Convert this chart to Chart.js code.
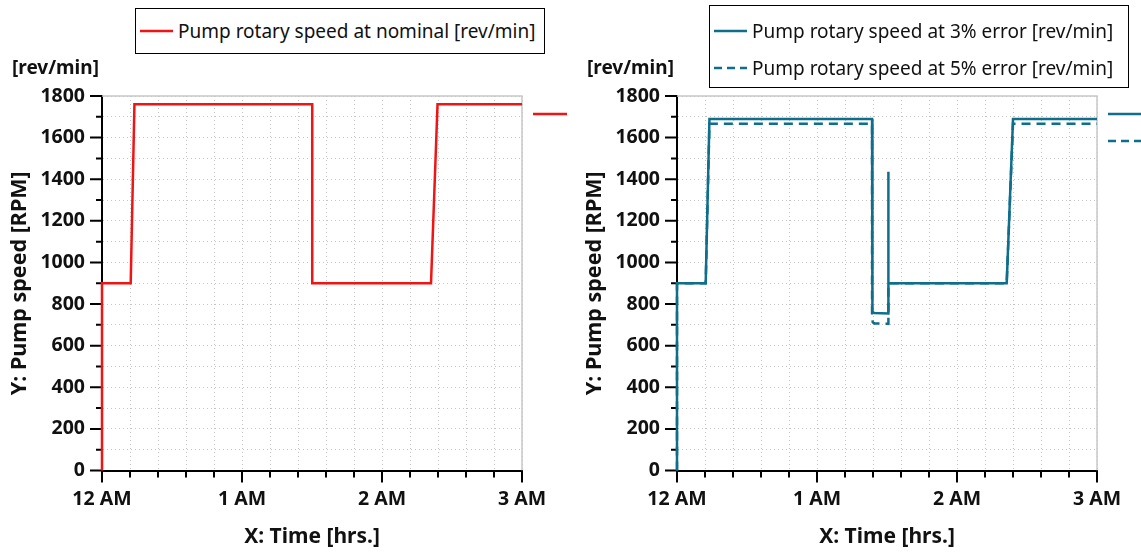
<!DOCTYPE html>
<html><head><meta charset="utf-8">
<script src="https://cdn.jsdelivr.net/npm/chart.js@4.4.1/dist/chart.umd.min.js"></script>
<style>
html,body{margin:0;padding:0;background:#fff;}
#wrap{position:relative;width:1141px;height:553px;overflow:hidden;font-family:'Noto Sans',sans-serif;}
.panel{position:absolute;top:0;height:553px;}
.panel canvas{position:absolute;left:0;top:0;}
.legend{position:absolute;border:1px solid #000;background:#fff;box-sizing:border-box;}
.lrow{height:37px;display:flex;align-items:center;font-size:19px;color:#111;white-space:nowrap;}
.lrow svg{margin:0 5px 0 4px;flex:none;}
.unit{position:absolute;left:12px;top:54px;font-weight:bold;font-size:19px;line-height:26px;color:#111;white-space:nowrap;}
.stub{position:absolute;left:533px;height:6px;line-height:0;}
.stub svg{display:block;}
</style></head>
<body>
<div id="wrap">
  <div class="panel" id="p1" style="left:0;width:575px;">
    <canvas id="c1" width="575" height="553"></canvas>
    <div class="unit" id="u1"></div>
    <div class="legend" id="lg1" style="left:135px;top:8px;width:410px;height:46px;padding-top:3px;"></div>
    <div id="st1"></div>
  </div>
  <div class="panel" id="p2" style="left:575px;width:566px;">
    <canvas id="c2" width="566" height="553"></canvas>
    <div class="unit" id="u2"></div>
    <div class="legend" id="lg2" style="left:134px;top:5px;width:420px;height:83px;padding-top:6px;"></div>
    <div id="st2"></div>
  </div>
</div>
<script>
// ---- data (time in minutes after 12 AM, speed in rev/min) ----
const timeTickLabels = ['12 AM', '1 AM', '2 AM', '3 AM'];
const xTitle = 'X: Time [hrs.]';
const yTitle = 'Y: Pump speed [RPM]';
const unitLabel = '[rev/min]';

const nominalLabel = 'Pump rotary speed at nominal [rev/min]';
const nominalTime  = [0, 0, 12.3, 13.9, 90.1, 90.1, 141.0, 143.8, 180];
const nominalSpeed = [0, 900, 900, 1760, 1760, 900, 900, 1760, 1760];

const err3Label = 'Pump rotary speed at 3% error [rev/min]';
const err3Time  = [0, 0, 12.3, 13.9, 83.6, 83.6, 83.9, 84.6, 90.6, 90.6, 90.6, 141.3, 144.0, 180];
const err3Speed = [0, 900, 900, 1690, 1690, 790, 762, 757, 755, 1436, 900, 900, 1690, 1690];

const err5Label = 'Pump rotary speed at 5% error [rev/min]';
const err5Time  = [0, 0, 12.3, 13.9, 83.6, 83.6, 83.9, 84.6, 90.6, 90.6, 141.3, 144.0, 180];
const err5Speed = [0, 900, 900, 1667, 1667, 735, 712, 707, 705, 900, 900, 1667, 1667];

const RED = '#f01414';
const BLUE = '#0f6e8c';

Chart.defaults.font.family = "'Noto Sans', sans-serif";
Chart.defaults.color = '#111';

function pts(t, v) { return t.map((x, i) => ({ x: x, y: v[i] })); }

const framePlugin = {
  id: 'frame',
  beforeDatasetsDraw(chart) {
    const { ctx, chartArea: a, scales } = chart;
    ctx.save();
    ctx.strokeStyle = '#c8c8c8';
    ctx.lineWidth = 1.5;
    ctx.beginPath();
    ctx.moveTo(a.left, a.top); ctx.lineTo(a.right, a.top); ctx.lineTo(a.right, a.bottom);
    ctx.stroke();
    ctx.strokeStyle = '#000';
    ctx.lineWidth = 2;
    ctx.beginPath();
    scales.y.ticks.forEach(t => {
      const y = scales.y.getPixelForValue(t.value);
      const len = (Math.round(t.value) % 200 === 0) ? 12 : 6;
      ctx.moveTo(a.left - len, y); ctx.lineTo(a.left, y);
    });
    scales.x.ticks.forEach(t => {
      const x = scales.x.getPixelForValue(t.value);
      const len = (Math.round(t.value) % 60 === 0) ? 12 : 7;
      ctx.moveTo(x, a.bottom); ctx.lineTo(x, a.bottom + len);
    });
    ctx.stroke();
    ctx.restore();
  }
};

function makeChart(id, datasets, padRight) {
  return new Chart(document.getElementById(id), {
    type: 'line',
    data: { datasets: datasets },
    options: {
      responsive: false,
      animation: false,
      layout: { padding: { top: 96, right: padRight, left: 0, bottom: 0 } },
      plugins: { legend: { display: false }, tooltip: { enabled: false } },
      elements: { point: { radius: 0 }, line: { tension: 0, borderWidth: 2.5 } },
      scales: {
        x: {
          type: 'linear', min: 0, max: 180,
          ticks: {
            stepSize: 12, autoSkip: false, maxRotation: 0, padding: 5, color: '#111',
            font: { size: 19.5, weight: 'bold' },
            callback: v => (Math.abs(v % 60) < 1e-6 ? timeTickLabels[Math.round(v / 60)] : '')
          },
          grid: { color: '#c4c4c4', lineWidth: 1, tickLength: 12, tickColor: 'rgba(0,0,0,0)' },
          border: { display: true, color: '#000', width: 2, dash: [1, 3] },
          title: { display: true, text: xTitle, color: '#111', font: { size: 21, weight: 'bold' }, padding: { top: 0, bottom: 3 } },
          afterFit: s => { s.height = 82.5; }
        },
        y: {
          type: 'linear', min: 0, max: 1800,
          ticks: {
            stepSize: 100, autoSkip: false, padding: 5, color: '#111',
            font: { size: 19.5, weight: 'bold' },
            callback: v => (Math.round(v) % 200 === 0 ? String(v) : '')
          },
          grid: { color: '#c4c4c4', lineWidth: 1, tickLength: 12, tickColor: 'rgba(0,0,0,0)' },
          border: { display: true, color: '#000', width: 2, dash: [1, 3] },
          title: { display: true, text: yTitle, color: '#111', font: { size: 21.5, weight: 'bold' }, padding: { top: 7, bottom: 0 } },
          afterFit: s => { s.width = 102; }
        }
      }
    },
    plugins: [framePlugin]
  });
}

const chart1 = makeChart('c1', [
  { label: nominalLabel, data: pts(nominalTime, nominalSpeed), borderColor: RED, backgroundColor: RED, clip: false }
], 53);

const chart2 = makeChart('c2', [
  { label: err3Label, data: pts(err3Time, err3Speed), borderColor: BLUE, backgroundColor: BLUE, clip: false },
  { label: err5Label, data: pts(err5Time, err5Speed), borderColor: BLUE, backgroundColor: BLUE, borderDash: [9, 6], clip: false }
], 44);

function swatch(color, dash, w) {
  const d = dash ? ` stroke-dasharray="8 5"` : '';
  return `<svg width="${w}" height="6"><line x1="0" y1="3" x2="${w}" y2="3" stroke="${color}" stroke-width="2.5"${d}/></svg>`;
}
function buildLegend(chart, legendId, stubId) {
  const lg = document.getElementById(legendId);
  const st = document.getElementById(stubId);
  chart.data.datasets.forEach((ds, i) => {
    const row = document.createElement('div');
    row.className = 'lrow';
    row.innerHTML = swatch(ds.borderColor, !!ds.borderDash, 33) + '<span></span>';
    row.querySelector('span').textContent = ds.label;
    lg.appendChild(row);
    const s = document.createElement('div');
    s.className = 'stub';
    s.style.top = (111 + i * 27) + 'px';
    s.innerHTML = swatch(ds.borderColor, !!ds.borderDash, 34);
    st.appendChild(s);
  });
}
buildLegend(chart1, 'lg1', 'st1');
buildLegend(chart2, 'lg2', 'st2');
document.getElementById('u1').textContent = unitLabel;
document.getElementById('u2').textContent = unitLabel;
</script>
</body></html>
